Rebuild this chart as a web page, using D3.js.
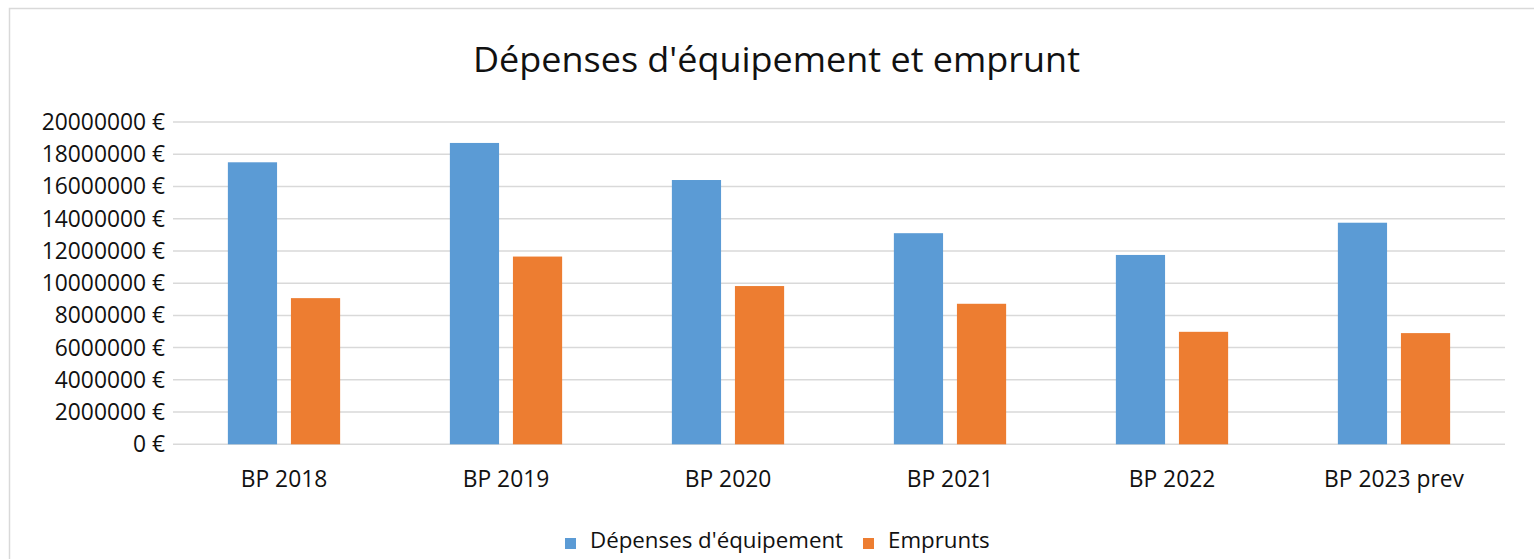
<!DOCTYPE html>
<html>
<head>
<meta charset="utf-8">
<script src="https://cdn.jsdelivr.net/npm/d3@7"></script>
<style>
  body { margin: 0; background: #fff; }
  svg { display: block; font-family: "Open Sans", sans-serif; }
</style>
</head>
<body>
<svg id="chart" width="1534" height="559"></svg>
<script>
var categories = ['BP 2018', 'BP 2019', 'BP 2020', 'BP 2021', 'BP 2022', 'BP 2023 prev'];
var seriesNames = ["Dépenses d'équipement", 'Emprunts'];
var depenses = [17500000, 18700000, 16400000, 13100000, 11750000, 13750000];
var emprunts = [9070000, 11650000, 9820000, 8720000, 6980000, 6900000];
var yTicks = [0, 2000000, 4000000, 6000000, 8000000, 10000000, 12000000, 14000000, 16000000, 18000000, 20000000];
var colors = ['#5B9BD5', '#ED7D31'];

var svg = d3.select('#chart');
var textColor = '#111';

// chart border (only left / top visible in the frame)
svg.append('rect')
  .attr('x', 9.5).attr('y', 8.5)
  .attr('width', 1560).attr('height', 600)
  .attr('fill', 'none')
  .attr('stroke', '#d9d9d9')
  .attr('stroke-width', 1.5);

var plot = { left: 173, right: 1505, top: 122, bottom: 444.3 };

var x0 = d3.scaleBand()
  .domain(categories)
  .range([plot.left, plot.right]);

var x1 = d3.scaleBand()
  .domain(seriesNames)
  .range([0, x0.bandwidth()])
  .paddingInner(0.22)
  .paddingOuter(0.87);

var y = d3.scaleLinear()
  .domain([0, 20000000])
  .range([plot.bottom, plot.top]);

// grid lines
svg.append('g')
  .selectAll('line')
  .data(yTicks)
  .enter().append('line')
  .attr('x1', plot.left)
  .attr('x2', plot.right)
  .attr('y1', function(d) { return y(d); })
  .attr('y2', function(d) { return y(d); })
  .attr('stroke', '#d9d9d9')
  .attr('stroke-width', 1.5);

// y labels
svg.append('g')
  .selectAll('text')
  .data(yTicks)
  .enter().append('text')
  .attr('x', 165)
  .attr('y', function(d) { return y(d); })
  .attr('dy', '0.35em')
  .attr('text-anchor', 'end')
  .attr('font-size', 22.8)
  .attr('fill', textColor)
  .text(function(d) { return d + ' €'; });

// bars
var rows = categories.map(function(c, i) {
  return { cat: c, values: [depenses[i], emprunts[i]] };
});

var groups = svg.append('g')
  .selectAll('g.group')
  .data(rows)
  .enter().append('g')
  .attr('class', 'group')
  .attr('transform', function(d) { return 'translate(' + x0(d.cat) + ',0)'; });

groups.selectAll('rect')
  .data(function(d) {
    return d.values.map(function(v, j) { return { name: seriesNames[j], value: v, idx: j }; });
  })
  .enter().append('rect')
  .attr('x', function(d) { return x1(d.name); })
  .attr('width', x1.bandwidth())
  .attr('y', function(d) { return y(d.value); })
  .attr('height', function(d) { return y(0) - y(d.value); })
  .attr('fill', function(d) { return colors[d.idx]; });

// x labels
svg.append('g')
  .selectAll('text')
  .data(categories)
  .enter().append('text')
  .attr('x', function(d) { return x0(d) + x0.bandwidth() / 2; })
  .attr('y', 487)
  .attr('text-anchor', 'middle')
  .attr('font-size', 22.8)
  .attr('fill', textColor)
  .text(function(d) { return d; });

// title
svg.append('text')
  .attr('x', 776.5)
  .attr('y', 72)
  .attr('text-anchor', 'middle')
  .attr('font-size', 35)
  .attr('fill', textColor)
  .attr('textLength', 607)
  .attr('lengthAdjust', 'spacingAndGlyphs')
  .text("Dépenses d'équipement et emprunt");

// legend
var legendX = [565, 863];
var legend = svg.append('g')
  .selectAll('g')
  .data(seriesNames)
  .enter().append('g')
  .attr('transform', function(d, i) { return 'translate(' + legendX[i] + ',0)'; });

legend.append('rect')
  .attr('x', 0).attr('y', 538)
  .attr('width', 11).attr('height', 11)
  .attr('fill', function(d, i) { return colors[i]; });

legend.append('text')
  .attr('x', 25)
  .attr('y', 548)
  .attr('font-size', 22.3)
  .attr('fill', textColor)
  .text(function(d) { return d; });
</script>
</body>
</html>
